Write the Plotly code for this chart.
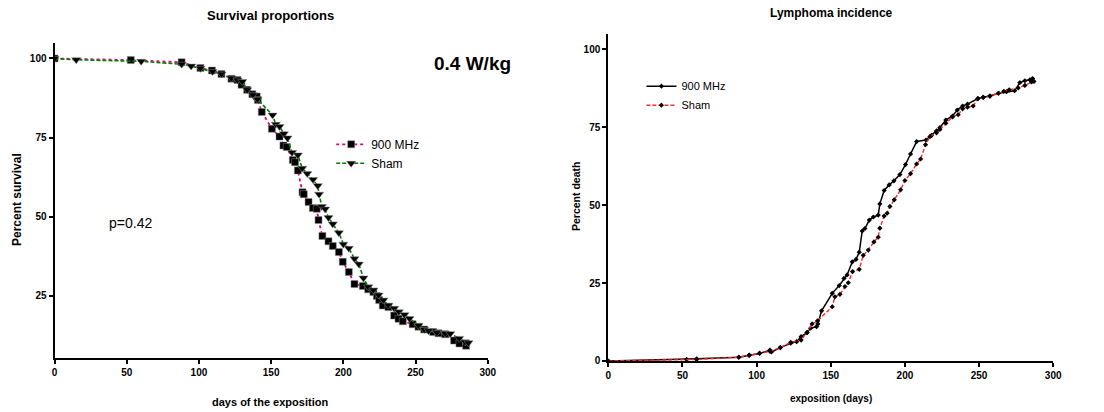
import plotly.graph_objects as go

# survival proportions (left panel)
surv_mhz_days = [0, 52.8, 88, 101, 109, 115.6, 122.5, 126.7, 129.5, 133.4, 137, 140, 140.8,
                 143.5, 150.5, 155.8, 158.5, 160.8, 165, 166.6, 168.5, 171.7, 172.6, 175.9,
                 178.9, 181.6, 182.8, 185.5, 189.7, 192.7, 196.9, 199.6, 203.8, 207.7, 213.5,
                 217.2, 220.8, 223.2, 224.8, 227.3, 231.2, 235.2, 238.2, 241.2, 248, 252, 256,
                 262.2, 265.9, 270.5, 276.7, 280.4, 285]
surv_mhz_pct = [100, 99.5, 98.8, 97, 96.2, 95.1, 93.6, 93.2, 91.7, 90.1, 88.7, 88, 86.9,
                83.1, 77.8, 75.3, 72.5, 72, 67.9, 67.2, 64.6, 57.7, 57.1, 54.6,
                52.7, 52.5, 48.9, 43.9, 42.2, 40.7, 38.8, 35.7, 32.5, 28.7, 28.1,
                27, 26.2, 24.9, 23.6, 21.9, 21.4, 18.7, 17.7, 16.9, 16, 15.2, 14.3,
                13.5, 13.1, 12.8, 10.8, 9.9, 9.2]

surv_sham_days = [0, 15, 60, 88, 94.6, 101, 109.4, 115.6, 122.5, 126.7, 130, 133.4, 137.3,
                  140.5, 151, 153.2, 155.8, 158.8, 161.3, 164.5, 168.5, 171.5, 175, 179,
                  182.3, 183.2, 185.1, 187.4, 189.7, 192.7, 196.9, 200, 203.8, 207.7, 210.7,
                  213.9, 217.2, 220.8, 224.4, 227.8, 231.2, 235.2, 238.4, 242.3, 245.8, 252,
                  256, 259, 264.7, 270.5, 274, 280.2, 284.3, 286.6]
surv_sham_pct = [100, 99.6, 99.1, 98.2, 97.6, 96.9, 95.9, 95.1, 93.8, 93.2, 92.7, 90.1, 88.5,
                 87.1, 82.1, 79.2, 78.5, 76.2, 74.9, 70.3, 69.5, 65.3, 63.6, 61.7,
                 59.8, 57.1, 53.2, 52.4, 49.7, 47.7, 44.9, 41.3, 40, 36.7, 35,
                 30.6, 27.8, 26.8, 25.2, 23.6, 22, 21, 19.9, 19, 17.8, 15.6,
                 14.3, 13.9, 13.3, 13.1, 13, 11.5, 10.4, 10.1]

# lymphoma incidence (right panel)
lym_mhz_days = [0, 52.8, 59.6, 88, 95, 102, 109, 110, 116, 123, 127, 130, 134, 136.4, 140.4,
                141.3, 143.8, 151, 155.7, 158.9, 161, 164.5, 167, 169.2, 171.2, 173, 176,
                178.7, 182, 183.1, 186, 189.4, 192.6, 196.6, 200.4, 203.8, 207.9, 214.2, 218,
                221.3, 223.6, 227.6, 232.1, 235.3, 238.9, 242.2, 249.2, 252.8, 257.3, 263.1,
                268.5, 274, 277.5, 280.9, 284.3, 286.1, 287]
lym_mhz_pct = [0, 0.5, 0.7, 1.2, 1.8, 2.4, 3.5, 2.9, 4.3, 5.7, 6.2, 7.8, 9.1, 10.5, 11,
               11.9, 16.1, 21.7, 24.2, 26.5, 27.6, 31.8, 32.6, 34.9, 41.7, 42.5, 45.2,
               46.2, 46.8, 50.4, 54.7, 56.5, 57.8, 59.8, 63, 66.4, 70.4, 70.9, 72.4,
               73.8, 74.9, 77.3, 78.6, 80.5, 81.8, 82.4, 84.2, 84.6, 85, 85.9,
               86.4, 86.7, 89.3, 89.9, 90.2, 90.6, 89.7]

lym_sham_days = [0, 59.6, 88, 95, 102, 109, 116, 123, 130, 134, 137.4, 141.1, 151, 152.8,
                 156.2, 159.6, 161.8, 164.7, 169.2, 171.9, 175.3, 179.1, 182, 183.1, 186,
                 188, 189.9, 192.8, 197.1, 200, 203.8, 207.9, 210.6, 213.9, 216.9, 221.3,
                 223.6, 227.6, 232.1, 235.9, 238.9, 242.2, 246, 249.2, 252.8, 257.3, 263.1,
                 266.7, 270.3, 276.4, 280.9, 285.4]
lym_sham_pct = [0, 0.5, 1.2, 1.9, 2.5, 3.1, 4.3, 6, 6.7, 9.2, 11.9, 12.9, 17.4, 20.6,
                21.4, 23.9, 25.1, 28.7, 29.4, 33.9, 35.6, 38.2, 39.7, 42.6, 46.5,
                47.4, 49.6, 51.7, 54.9, 57.9, 60.1, 63.2, 64.8, 69.4, 72, 73.2,
                74.3, 76.3, 78.3, 79, 80.9, 81.4, 81.8, 84.2, 84.6, 85, 85.9,
                86.5, 87, 87.6, 88.4, 89.5]

ticks_x = [0, 50, 100, 150, 200, 250, 300]
ticks_y = [25, 50, 75, 100]
ticks_y2 = [0, 25, 50, 75, 100]

FONT = "Liberation Sans, Arial, sans-serif"

fig = go.Figure()

fig.add_trace(go.Scatter(
    x=surv_mhz_days, y=surv_mhz_pct, name="900 MHz", mode="lines+markers",
    line=dict(color="rgb(230,0,126)", dash="dot", width=1.8),
    marker=dict(symbol="square", size=7, color="black", line=dict(color="#888", width=0.5)),
    xaxis="x", yaxis="y", legend="legend"))
fig.add_trace(go.Scatter(
    x=surv_sham_days, y=surv_sham_pct, name="Sham", mode="lines+markers",
    line=dict(color="rgb(0,128,0)", dash="4px,2px", width=1.6),
    marker=dict(symbol="triangle-down", size=8, color="black", line=dict(color="#888", width=0.5)),
    xaxis="x", yaxis="y", legend="legend"))

fig.add_trace(go.Scatter(
    x=lym_mhz_days, y=lym_mhz_pct, name="900 MHz", mode="lines+markers",
    line=dict(color="black", width=1.5),
    marker=dict(symbol="diamond", size=4, color="black"),
    xaxis="x2", yaxis="y2", legend="legend2"))
fig.add_trace(go.Scatter(
    x=lym_sham_days, y=lym_sham_pct, name="Sham", mode="lines+markers",
    line=dict(color="rgb(255,40,40)", dash="4px,2px", width=1.4),
    marker=dict(symbol="diamond", size=4, color="black"),
    xaxis="x2", yaxis="y2", legend="legend2"))

axis_style = dict(showline=True, linecolor="black", linewidth=2, ticks="outside",
                  ticklen=4, tickwidth=2, tickcolor="black", showgrid=False, zeroline=False,
                  automargin=False,
                  tickfont=dict(family=FONT, size=10, color="black", weight="bold"))

fig.update_layout(
    width=1104, height=412,
    margin=dict(l=0, r=0, t=0, b=0),
    paper_bgcolor="white", plot_bgcolor="white",
    font=dict(family=FONT, color="black"),
    xaxis=dict(domain=[0.0494, 0.4418], range=[0, 300], tickvals=ticks_x, anchor="y", **axis_style),
    yaxis=dict(domain=[0.1303, 0.8964], range=[5.2, 105], tickvals=ticks_y, anchor="x", **axis_style),
    xaxis2=dict(domain=[0.551, 0.954], range=[0, 300], tickvals=ticks_x, anchor="y2", **axis_style),
    yaxis2=dict(domain=[0.1238, 0.9167], range=[0, 104.8], tickvals=ticks_y2, anchor="x2", **axis_style),
    legend=dict(x=0.30, y=0.685, xanchor="left", yanchor="top", bgcolor="rgba(0,0,0,0)",
                font=dict(size=12), tracegroupgap=0),
    legend2=dict(x=0.581, y=0.826, xanchor="left", yanchor="top", bgcolor="rgba(0,0,0,0)",
                 font=dict(size=11), tracegroupgap=0),
)

# titles and text placed in paper coordinates
texts = [
    ("<b>Survival proportions</b>", 270, 16, 13, 0, "center"),
    ("<b>Lymphoma incidence</b>", 831, 13, 12, 0, "center"),
    ("<b>days of the exposition</b>", 270, 402, 11, 0, "center"),
    ("<b>exposition (days)</b>", 831, 398, 10, 0, "center"),
    ("<b>Percent survival</b>", 17, 200, 12, -90, "center"),
    ("<b>Percent death</b>", 576, 197, 10.5, -90, "center"),
    ("<b>0.4 W/kg</b>", 513, 63, 19, 0, "right"),
    ("p=0.42", 107, 223, 14, 0, "left"),
]
for txt, px, py, size, ang, anchor in texts:
    fig.add_annotation(text=txt, x=px / 1104, y=1 - py / 412, xref="paper", yref="paper",
                       showarrow=False, xanchor=anchor, yanchor="middle", textangle=ang,
                       font=dict(size=size, family=FONT, color="black"))

fig.write_html("out.html", config={"displayModeBar": False},
               post_script="document.body.style.margin='0px';")
